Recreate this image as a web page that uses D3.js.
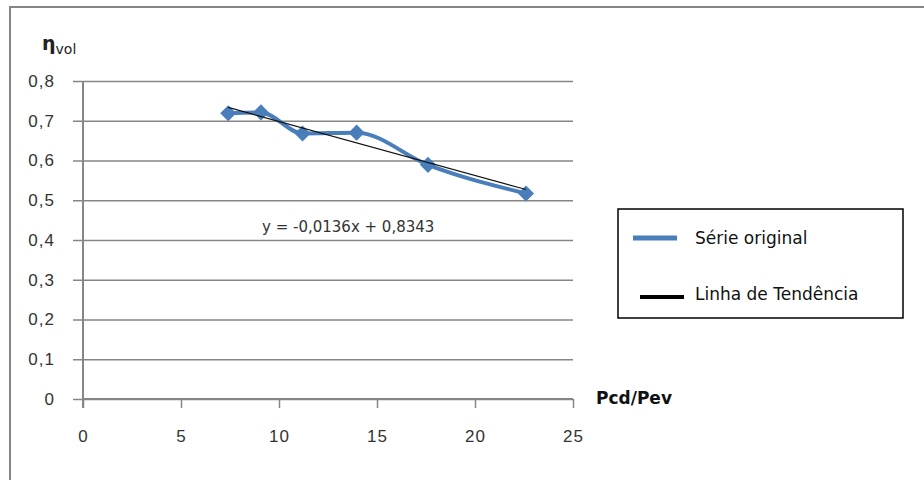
<!DOCTYPE html>
<html>
<head>
<meta charset="utf-8">
<script src="https://cdn.jsdelivr.net/npm/d3@7"></script>
<style>
  body { margin: 0; background: #fff; }
  svg { display: block; font-family: "DejaVu Sans", sans-serif; }
  .tick text { fill: #333; font-size: 17px; letter-spacing: 1px; }
</style>
</head>
<body>
<svg id="chart" width="924" height="480"></svg>
<script>
// Volumetric efficiency vs pressure ratio (Pcd/Pev)
const ratio = [7.41, 9.08, 11.2, 13.96, 17.6, 22.6];
const etaVol = [0.719, 0.721, 0.668, 0.670, 0.589, 0.517];
const trendX = [7.41, 22.6];
const slope = -0.0136, intercept = 0.8343;
const xTicks = [0, 5, 10, 15, 20, 25];
const yTicks = [0, 0.1, 0.2, 0.3, 0.4, 0.5, 0.6, 0.7, 0.8];
const legendLabels = ['Série original', 'Linha de  Tendência'];

const svg = d3.select('#chart');
const blue = '#4a7ebb';
const grey = '#868686';

const x = d3.scaleLinear().domain([0, 25]).range([83, 573]);
const y = d3.scaleLinear().domain([0, 0.8]).range([399, 81]);

const data = ratio.map((r, i) => ({ x: r, y: etaVol[i] }));
const trend = trendX.map(v => ({ x: v, y: slope * v + intercept }));

// outer frame (top and left only)
svg.append('path')
  .attr('d', 'M10,480 V7 H924')
  .attr('fill', 'none')
  .attr('stroke', grey)
  .attr('stroke-width', 2);

// y axis + horizontal grid
const fmt = d => d === 0 ? '0' : d3.format('.1f')(d).replace('.', ',');
svg.append('g')
  .attr('transform', `translate(${x(0)},0)`)
  .call(d3.axisLeft(y).tickValues(yTicks).tickFormat(fmt).tickSize(10).tickPadding(18))
  .call(g => g.select('.domain').remove())
  .call(g => g.selectAll('.tick line')
    .attr('x2', x(25) - x(0))
    .attr('x1', -10)
    .attr('stroke', grey)
    .attr('stroke-width', 1.5));

// y axis line
svg.append('line')
  .attr('x1', x(0)).attr('x2', x(0))
  .attr('y1', y(0.8)).attr('y2', y(0) + 9)
  .attr('stroke', grey).attr('stroke-width', 2);

// x axis
svg.append('g')
  .attr('transform', `translate(0,${y(0)})`)
  .call(d3.axisBottom(x).tickValues(xTicks).tickSize(9).tickPadding(22))
  .call(g => g.select('.domain').attr('stroke', grey).attr('stroke-width', 2).attr('d', `M${x(0)},0H${x(25)}`))
  .call(g => g.selectAll('.tick line').attr('stroke', grey).attr('stroke-width', 1.5));

// series line (smoothed)
const line = d3.line().x(d => x(d.x)).y(d => y(d.y)).curve(d3.curveMonotoneX);
svg.append('path')
  .datum(data)
  .attr('fill', 'none')
  .attr('stroke', blue)
  .attr('stroke-width', 4)
  .attr('d', line);

// markers: diamonds
svg.selectAll('.marker')
  .data(data)
  .join('path')
  .attr('class', 'marker')
  .attr('d', d3.symbol(d3.symbolSquare, 130))
  .attr('transform', d => `translate(${x(d.x)},${y(d.y)}) rotate(45)`)
  .attr('fill', blue);

// trend line
svg.append('path')
  .datum(trend)
  .attr('fill', 'none')
  .attr('stroke', '#111')
  .attr('stroke-width', 1.2)
  .attr('d', d3.line().x(d => x(d.x)).y(d => y(d.y)));

// equation
svg.append('text')
  .attr('x', 262).attr('y', 232)
  .attr('fill', '#333')
  .style('font-size', '15px')
  .text('y = -0,0136x + 0,8343');

// axis titles
const yt = svg.append('text').attr('x', 42).attr('y', 50).attr('fill', '#222');
yt.append('tspan').style('font-size', '19px').style('font-weight', 'bold').text('η');
yt.append('tspan').attr('dy', 4).style('font-size', '14px').text('vol');

svg.append('text')
  .attr('x', 596).attr('y', 404)
  .attr('fill', '#111')
  .style('font-size', '17px')
  .style('font-weight', 'bold')
  .text('Pcd/Pev');

// legend
svg.append('rect')
  .attr('x', 618).attr('y', 209)
  .attr('width', 285).attr('height', 109)
  .attr('fill', '#fff')
  .attr('stroke', '#000')
  .attr('stroke-width', 1.5);

const legColors = [blue, '#000'];
const legY = [238, 297];
legendLabels.forEach((lab, i) => {
  svg.append('line')
    .attr('x1', i === 0 ? 633 : 640).attr('x2', i === 0 ? 677 : 684)
    .attr('y1', legY[i]).attr('y2', legY[i])
    .attr('stroke', legColors[i]).attr('stroke-width', i === 0 ? 5 : 4);
  svg.append('text')
    .attr('x', 695).attr('y', legY[i] + (i === 0 ? 6 : 3))
    .attr('fill', '#111')
    .style('font-size', '17px')
    .text(lab);
});
</script>
</body>
</html>
